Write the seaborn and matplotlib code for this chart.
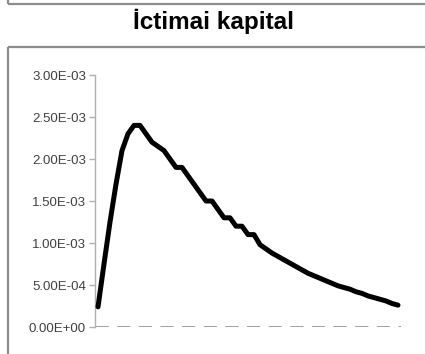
import numpy as np
import pandas as pd
import matplotlib
matplotlib.use("Agg")
import matplotlib.pyplot as plt
from matplotlib.lines import Line2D
import seaborn as sns

# chart data (values in units of 1e-3)
title = "İctimai kapital"
values_e3 = [0.24, 0.75, 1.25, 1.70, 2.10, 2.30, 2.40, 2.40, 2.30, 2.20,
             2.15, 2.10, 2.00, 1.90, 1.90, 1.80, 1.70, 1.60, 1.50, 1.50,
             1.40, 1.30, 1.30, 1.20, 1.20, 1.10, 1.10, 0.98, 0.93, 0.88,
             0.84, 0.80, 0.76, 0.72, 0.68, 0.64, 0.61, 0.58, 0.55, 0.52,
             0.49, 0.47, 0.45, 0.42, 0.40, 0.37, 0.35, 0.33, 0.31, 0.28,
             0.26]
y_ticks = [0.0, 0.5e-3, 1.0e-3, 1.5e-3, 2.0e-3, 2.5e-3, 3.0e-3]
y_tick_labels = ["0.00E+00", "5.00E-04", "1.00E-03", "1.50E-03",
                 "2.00E-03", "2.50E-03", "3.00E-03"]

df = pd.DataFrame({"period": np.arange(len(values_e3)),
                   "value": np.array(values_e3) * 1e-3})

sns.set_style("white")
plt.rcParams["font.family"] = ["Liberation Sans", "DejaVu Sans"]

W, H = 425, 354
fig = plt.figure(figsize=(W / 100, H / 100), dpi=100)

# frame lines (previous panel bottom and this panel's box)
gray = "#8c8c8c"
def px(x, y):
    return x / W, 1 - y / H
for (x0, y0), (x1, y1) in [((7.5, 0), (7.5, 3.5)), ((7.5, 3.5), (W, 3.5)),
                           ((7.5, 47), (W, 47)), ((7.5, 47), (7.5, H))]:
    a, b = px(x0, y0)
    c, d = px(x1, y1)
    fig.add_artist(Line2D([a, c], [b, d], color=gray, lw=1.6,
                          transform=fig.transFigure, solid_capstyle="butt"))

fig.text(213 / W, 1 - 21 / H, title, ha="center", va="center",
         fontsize=17.5, fontweight="bold", color="black")

ax = fig.add_axes([95 / W, 27 / H, 306 / W, 252 / H])
ax.axhline(0, color="#8f8f8f", lw=1.9, dashes=(5.0, 3.2), zorder=1)
sns.lineplot(data=df, x="period", y="value", ax=ax, color="black",
             lw=3.6, zorder=3)

ax.set_xlim(-0.5, len(values_e3) - 0.5)
ax.set_ylim(0, 3.0e-3)
ax.set_yticks(y_ticks)
ax.set_yticklabels(y_tick_labels)
ax.set_xticks([])
ax.set_xlabel("")
ax.set_ylabel("")
for side in ["top", "right", "bottom"]:
    ax.spines[side].set_visible(False)
ax.spines["left"].set_color("#b0b0b0")
ax.spines["left"].set_linewidth(1.0)
ax.tick_params(axis="y", left=True, length=4.5, width=1.0, color="#b0b0b0",
               pad=2, labelsize=9.5, labelcolor="#404040")
ax.patch.set_alpha(0)

fig.savefig("out.png", dpi=100)
